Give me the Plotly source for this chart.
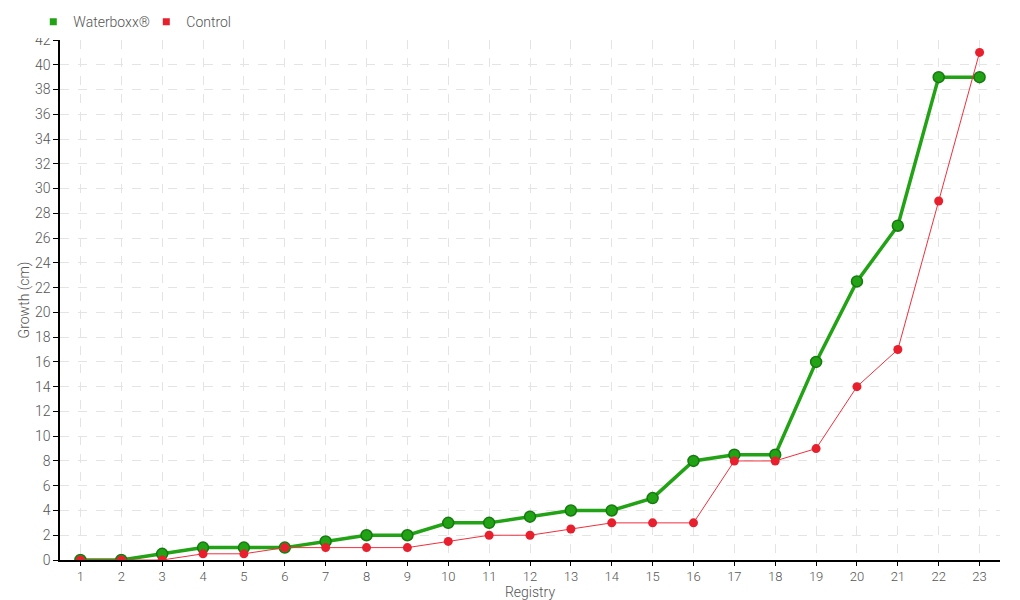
import plotly.graph_objs as go

registry = list(range(1, 24))
waterboxx = [0, 0, 0.5, 1, 1, 1, 1.5, 2, 2, 3, 3, 3.5, 4, 4, 5, 8, 8.5, 8.5, 16, 22.5, 27, 39, 39]
control = [0, 0, 0, 0.5, 0.5, 1, 1, 1, 1, 1.5, 2, 2, 2.5, 3, 3, 3, 8, 8, 9, 14, 17, 29, 41]

font_name = "Roboto"
green = "#22a215"
red = "#e8202e"

fig = go.Figure()

fig.add_trace(go.Scatter(
    x=registry, y=waterboxx, name="Waterboxx®", mode="lines+markers",
    line=dict(color=green, width=3.5),
    marker=dict(size=11, color=green, line=dict(color="#167a10", width=1.5)),
    showlegend=False,
))
fig.add_trace(go.Scatter(
    x=registry, y=control, name="Control", mode="lines+markers",
    line=dict(color="#f0303d", width=1),
    marker=dict(size=9, color=red, line=dict(width=0)),
    showlegend=False,
))

# legend entries with small square keys
fig.add_trace(go.Scatter(x=[None], y=[None], name="Waterboxx®", mode="markers",
                         marker=dict(symbol="square", size=7, color=green)))
fig.add_trace(go.Scatter(x=[None], y=[None], name="Control", mode="markers",
                         marker=dict(symbol="square", size=7, color=red)))

# page body has an 8px margin, so the figure is a bit smaller and shifted
fig.update_layout(
    width=1012, height=592,
    margin=dict(l=52, r=20, t=32, b=40, autoexpand=False),
    plot_bgcolor="white", paper_bgcolor="white",
    font=dict(family=font_name, size=14, color="#555555", weight=300),
    showlegend=True,
    legend=dict(orientation="h", x=0.025, xref="container", y=0.976, yref="container",
                yanchor="middle", xanchor="left",
                font=dict(size=14, color="#555555"),
                itemwidth=30, entrywidth=68, entrywidthmode="pixels",
                traceorder="normal", itemclick=False),
)

fig.update_xaxes(
    range=[0.5, 23.5], tickmode="linear", tick0=1, dtick=1,
    showline=True, linecolor="black", linewidth=1.5,
    ticks="outside", ticklen=4, tickcolor="black",
    tickfont=dict(size=13),
    showgrid=True, gridcolor="#e4e4e4", griddash="dash",
    zeroline=False,
    title=dict(text="Registry", standoff=4, font=dict(size=14)),
)
fig.update_yaxes(
    range=[0, 42], tickmode="linear", tick0=0, dtick=2,
    showline=True, linecolor="black", linewidth=1.5,
    ticks="outside", ticklen=5, tickcolor="black",
    showgrid=True, gridcolor="#e4e4e4", griddash="dash",
    zeroline=False,
    title=dict(text="Growth (cm)", standoff=2, font=dict(size=14)),
)

fig.write_html("out.html")
